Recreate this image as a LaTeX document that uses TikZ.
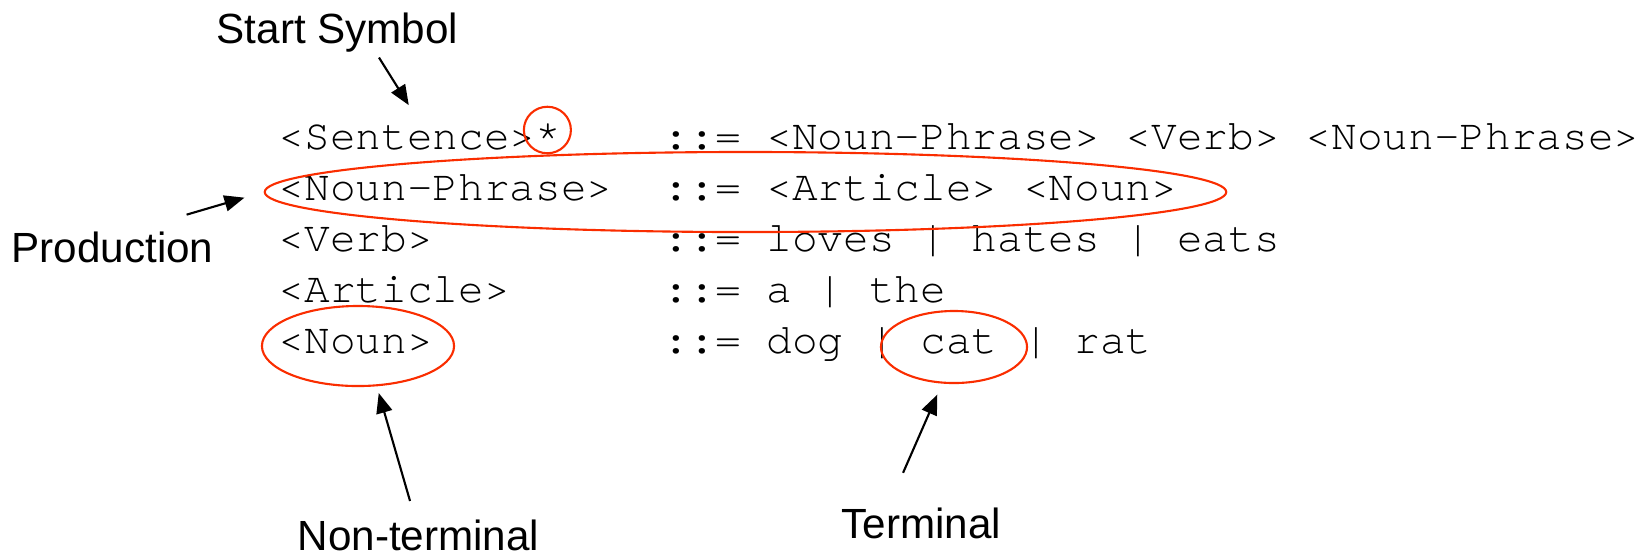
\documentclass[tikz,border=0pt]{standalone}
\usepackage{fontspec}
\setmainfont{Liberation Sans}
\setmonofont{TeX Gyre Cursor}
\usepackage{tikz}
\usetikzlibrary{arrows.meta}
\usetikzlibrary{shapes.geometric}
\definecolor{ringred}{RGB}{250,45,0}

\tikzset{
  code/.style={anchor=base west, inner sep=0pt, font=\ttfamily\fontsize{12.17}{14.6}\selectfont},
  tag/.style={anchor=base west, inner sep=0pt, font=\fontsize{12}{14.4}\selectfont},
  ring/.style={draw=ringred, line width=0.6pt, ellipse, inner sep=0pt},
  pointer/.style={-{Triangle[length=0.2cm,width=0.16cm]}, line width=0.6pt},
}

\begin{document}
\begin{tikzpicture}[x=0.01cm, y=-0.01cm]
\useasboundingbox (0,0) rectangle (1650,556);

% left hand sides
\node[code] (sentence) at (278,149.5) {<Sentence>*};
\node[code] (nounphrase) at (278,200.5) {<Noun-Phrase>};
\node[code] (verb) at (278,251.5) {<Verb>};
\node[code] (article) at (278,302.5) {<Article>};
\node[code] (nounlhs) at (278,353.5) {<Noun>};

% right hand sides
\node[code] (rhsa) at (663,149.5) {::= <Noun-Phrase> <Verb> <Noun-Phrase>};
\node[code] (rhsb) at (663,200.5) {::= <Article> <Noun>};
\node[code] (rhsc) at (663,251.5) {::= loves | hates | eats};
\node[code] (rhsd) at (663,302.5) {::= a | the};
\node[code] (rhse) at (663,353.5) {::= dog | cat | rat};

% red rings
\node[ring, minimum width=0.47cm, minimum height=0.465cm] (star) at (547.4,130) {};
\node[ring, minimum width=9.61cm, minimum height=0.8cm] (prod) at (745.5,192) {};
\node[ring, minimum width=1.92cm, minimum height=0.8cm] (noun) at (358,346) {};
\node[ring, minimum width=1.46cm, minimum height=0.72cm] (cat) at (954,347) {};

% labels
\node[tag] (startlbl) at (216,43) {Start Symbol};
\node[tag] (prodlbl) at (11,262) {Production};
\node[tag] (nontlbl) at (297,550.5) {Non-terminal};
\node[tag] (termlbl) at (841,538) {Terminal};

\draw[pointer, shorten <=0.06cm, shorten >=0.21cm] (startlbl.-28) -- (sentence.north);
\draw[pointer, shorten <=0.57cm, shorten >=0.2cm] (prodlbl.40) -- (prod.180.5);
\draw[pointer, shorten <=0.19cm, shorten >=0.07cm] (nontlbl.101) -- (noun.-65);
\draw[pointer, shorten <=0.37cm, shorten >=0.12cm] (termlbl.154.5) -- (cat.252);

\end{tikzpicture}
\end{document}
